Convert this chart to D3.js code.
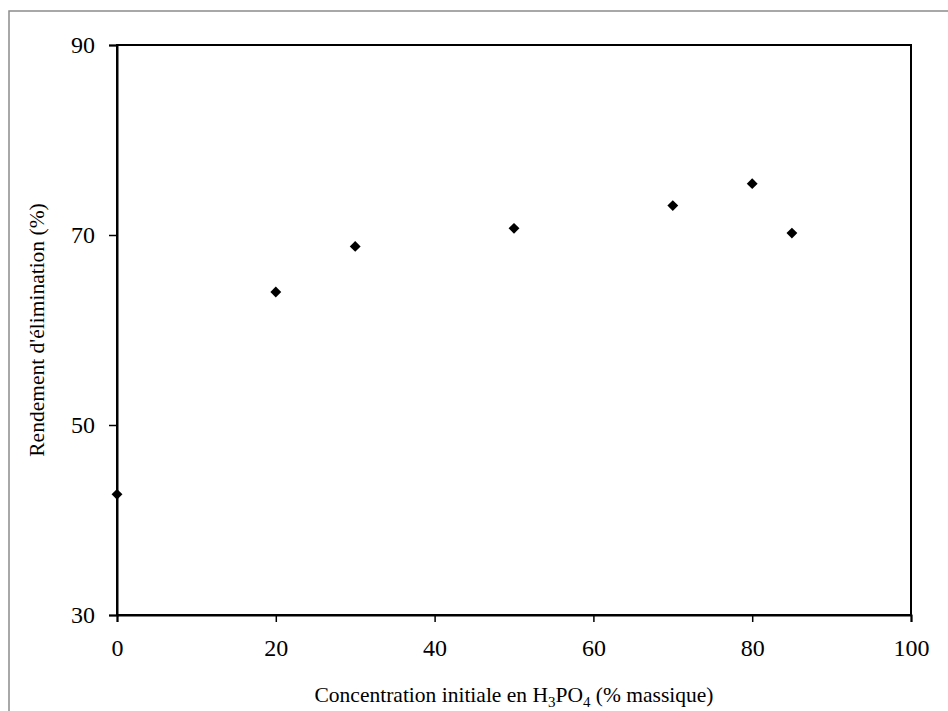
<!DOCTYPE html>
<html>
<head>
<meta charset="utf-8">
<script src="https://cdn.jsdelivr.net/npm/d3@7"></script>
<style>
  body { margin: 0; background: #fff; }
  text { font-family: "Liberation Serif", "Times New Roman", serif; fill: #000; }
</style>
</head>
<body>
<div id="container"></div>
<script>
const concentration = [0, 20, 30, 50, 70, 80, 85];
const rendement = [42.7, 64.0, 68.8, 70.7, 73.1, 75.4, 70.2];
const xTicks = [0, 20, 40, 60, 80, 100];
const yTicks = [30, 50, 70, 90];

const width = 948, height = 711;
const margin = { left: 117, top: 45, right: 37, bottom: 96 };

let svg = d3.select("#container").append("svg")
  .attr("width", width)
  .attr("height", height);

// outer chart border (only top and left visible)
svg.append("rect")
  .attr("x", 9).attr("y", 11)
  .attr("width", width + 20).attr("height", height + 20)
  .attr("fill", "none")
  .attr("stroke", "#8c8c8c")
  .attr("stroke-width", 1.5);

let xScale = d3.scaleLinear().domain([0, 100]).range([margin.left, width - margin.right]);
let yScale = d3.scaleLinear().domain([30, 90]).range([height - margin.bottom, margin.top]);

// plot frame
svg.append("rect")
  .attr("x", xScale(0)).attr("y", yScale(90))
  .attr("width", xScale(100) - xScale(0))
  .attr("height", yScale(30) - yScale(90))
  .attr("fill", "none")
  .attr("stroke", "#000")
  .attr("stroke-width", 2);

let xAxis = svg.append("g")
  .attr("transform", `translate(0,${yScale(30)})`)
  .call(d3.axisBottom(xScale).tickValues(xTicks).tickSize(7).tickPadding(17));

let yAxis = svg.append("g")
  .attr("transform", `translate(${xScale(0)},0)`)
  .call(d3.axisLeft(yScale).tickValues(yTicks).tickSize(8).tickPadding(14));

[xAxis, yAxis].forEach((ax) => {
  ax.attr("font-size", null).attr("font-family", null);
  ax.select(".domain").attr("stroke", "#000").attr("stroke-width", 2);
  ax.selectAll(".tick line").attr("stroke", "#000").attr("stroke-width", 1.5);
  ax.selectAll(".tick text")
    .style("font-size", "24px")
    .attr("fill", "#000");
});

// points
svg.append("g").selectAll("path")
  .data(concentration)
  .join("path")
  .attr("d", d3.symbol().type(d3.symbolDiamond2).size(75))
  .attr("transform", (d, i) => `translate(${xScale(d)},${yScale(rendement[i])})`)
  .attr("fill", "#000");

// axis titles
let xTitle = svg.append("text")
  .attr("x", (xScale(0) + xScale(100)) / 2)
  .attr("y", 702)
  .attr("text-anchor", "middle")
  .style("font-size", "21.5px");
xTitle.append("tspan").text("Concentration initiale en H");
xTitle.append("tspan").style("font-size", "15px").attr("dy", 5).text("3");
xTitle.append("tspan").attr("dy", -5).text("PO");
xTitle.append("tspan").style("font-size", "15px").attr("dy", 5).text("4");
xTitle.append("tspan").attr("dy", -5).text(" (% massique)");

svg.append("text")
  .attr("transform", `translate(44,${(yScale(30) + yScale(90)) / 2}) rotate(-90)`)
  .attr("text-anchor", "middle")
  .style("font-size", "21.5px")
  .text("Rendement d'élimination (%)");
</script>
</body>
</html>
